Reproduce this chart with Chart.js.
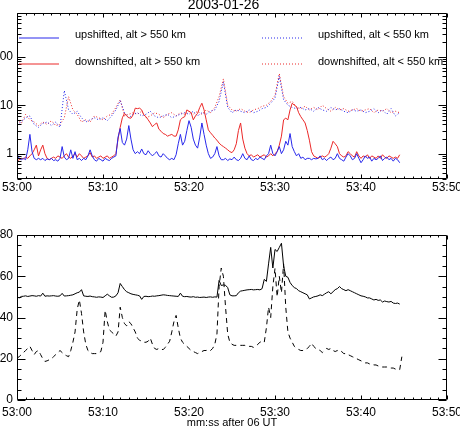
<!DOCTYPE html>
<html>
<head>
<meta charset="utf-8">
<script src="https://cdn.jsdelivr.net/npm/chart.js@4.4.1/dist/chart.umd.min.js"></script>
<style>
  html, body { margin: 0; padding: 0; background: #fff; }
  #wrap { position: relative; width: 460px; height: 433px; overflow: hidden; background: #fff; }
  canvas { position: absolute; left: 0; }
</style>
</head>
<body>
<div id="wrap">
  <canvas id="topChart" width="460" height="200" style="top:0px"></canvas>
  <canvas id="botChart" width="460" height="218" style="top:215px"></canvas>
</div>
<script>
// ---------------- DATA ----------------
const TITLE = '2003-01-26';
const X_TITLE = 'mm:ss after 06 UT';
const FINE_STEP = 0.25;   // seconds between samples (solid lines, dashed line)
const COARSE_STEP = 0.5;  // seconds between samples (dotted lines)
const xTickSeconds = [0, 10, 20, 30, 40, 50];
const xTickLabels = ['53:00', '53:10', '53:20', '53:30', '53:40', '53:50'];
const topYTicks = [1, 10, 100];
const bottomYTicks = [0, 20, 40, 60, 80];

const seriesLabels = [
  'upshifted, alt > 550 km',
  'downshifted, alt > 550 km',
  'upshifted, alt < 550 km',
  'downshifted, alt < 550 km'
];

// upshifted, alt > 550 km (blue solid), from 53:00 every 0.25 s
const upHigh = [
  1.0, 0.8, 0.75, 0.8, 0.75, 1.2, 2.5, 1.1,
  0.8, 0.75, 0.8, 0.75, 0.8, 0.72, 0.78, 0.75,
  0.8, 0.72, 0.75, 0.7, 0.8, 1.4, 0.85, 0.75,
  0.8, 1.2, 0.8, 1.1, 0.75, 0.8, 0.72, 0.8,
  0.75, 0.9, 1.2, 0.9, 0.75, 0.7, 0.8, 0.75,
  0.7, 0.8, 0.75, 0.72, 0.8, 0.85, 0.9, 2.2,
  3.3, 1.7, 1.5, 2.0, 3.8, 2.0, 1.2, 1.0,
  1.1, 1.0, 1.25, 1.0, 0.95, 1.15, 1.0, 0.9,
  1.0, 1.1, 0.9, 0.85, 1.0, 0.9, 0.8, 0.75,
  0.8, 0.75, 0.95, 1.6, 2.5, 1.5, 1.8, 3.0,
  4.8, 3.5, 2.0, 1.5, 1.3, 2.2, 4.3, 2.5,
  1.5, 1.0, 0.8, 0.85, 1.0, 1.4, 0.9, 0.75,
  0.75, 0.8, 0.72, 0.78, 0.75, 0.85, 0.75, 0.72,
  0.8, 1.0, 0.8, 0.75, 0.9, 0.75, 0.72, 0.8,
  0.75, 0.85, 0.8, 0.75, 0.9, 1.0, 1.5, 1.0,
  0.9, 1.1, 1.4, 1.0, 1.2, 1.8, 1.5, 2.6,
  1.4, 1.1, 0.9, 1.0, 0.8, 0.85, 0.75, 0.8,
  0.8, 0.75, 0.8, 0.78, 0.8, 0.9, 0.75, 0.8,
  0.72, 0.8, 0.85, 0.75, 0.8, 1.0, 0.8, 0.75,
  0.7, 0.85, 1.0, 0.9, 0.75, 0.8, 1.0, 0.8,
  0.65, 0.75, 0.9, 0.8, 0.85, 0.7, 0.8, 0.75,
  0.8, 0.9, 0.72, 0.8, 0.85, 0.75, 0.8, 0.7,
  0.8, 0.75, 0.65
];

// downshifted, alt > 550 km (red solid), every 0.25 s
const downHigh = [
  0.7, 0.75, 0.8, 0.78, 0.85, 0.8, 0.9, 1.0,
  1.2, 1.5, 0.9, 1.2, 1.5, 1.0, 0.8, 0.75,
  0.8, 0.85, 0.8, 0.9, 0.85, 0.8, 0.9, 1.0,
  0.85, 0.8, 0.9, 1.0, 0.85, 1.0, 0.9, 0.8,
  0.85, 0.9, 1.05, 0.85, 0.9, 0.8, 0.85, 0.9,
  0.8, 0.85, 0.9, 0.8, 0.85, 0.9, 1.0, 2.0,
  3.5, 5.5, 6.8, 6.0, 5.5, 5.4, 6.3, 8.7,
  8.5, 8.7, 8.0, 6.3, 5.8, 5.0, 4.3, 3.6,
  4.0, 4.3, 3.2, 2.9, 2.6, 2.5, 2.3, 2.4,
  2.5, 2.3, 2.3, 3.1, 5.0, 5.5, 5.8, 8.0,
  7.5, 7.0, 5.0, 6.0, 6.8, 9.0, 11, 8.0,
  5.0, 3.1, 2.7, 2.4, 2.1, 1.9, 1.65, 1.5,
  1.4, 1.3, 1.2, 1.1, 1.05, 1.2, 1.6, 3.0,
  4.3, 2.0, 1.3, 1.0, 0.9, 0.95, 0.85, 0.9,
  0.95, 0.85, 0.9, 0.95, 0.85, 0.9, 1.0, 0.9,
  1.0, 1.1, 1.5, 2.3, 5.0, 5.4, 5.0, 8.0,
  11, 10, 9.4, 7.0, 5.8, 5.0, 4.3, 3.0,
  1.9, 1.1, 0.9, 0.85, 0.8, 0.85, 0.9, 0.85,
  0.9, 1.0, 1.3, 1.8, 1.6, 1.4, 1.0, 0.9,
  0.85, 0.9, 1.1, 1.0, 0.9, 0.85, 1.1, 0.9,
  0.8, 0.9, 0.85, 0.95, 0.8, 0.9, 0.85, 0.8,
  0.9, 0.8, 0.95, 0.85, 0.8, 0.9, 0.85, 0.8,
  0.85, 0.8, 0.95
];

// upshifted, alt < 550 km (blue dotted), every 0.5 s
const upLow = [
  4.0, 4.5, 5.5, 6.0, 4.0, 3.5, 4.2, 4.5, 3.8, 4.5,
  3.5, 20, 8.0, 6.5, 7.5, 5.5, 4.5, 5.0, 5.5, 5.0,
  5.5, 4.8, 6.0, 8.0, 12.5, 7.0, 5.5, 6.5, 7.0, 6.0,
  6.5, 7.5, 6.0, 5.5, 6.0, 6.5, 5.5, 6.0, 6.5, 7.0,
  6.5, 7.5, 6.0, 7.0, 6.5, 7.5, 8.0, 12, 30, 9.0,
  7.0, 8.0, 7.5, 7.0, 8.0, 7.0, 7.5, 8.5, 9.0, 11,
  14, 40, 13, 10, 9.0, 8.5, 9.0, 8.0, 8.5, 7.5,
  9.0, 8.0, 7.5, 9.0, 8.0, 8.5, 7.5, 7.0, 8.0, 7.5,
  8.0, 7.0, 7.5, 8.5, 7.0, 8.0, 6.5, 8.5, 6.0, 7.0
];

// downshifted, alt < 550 km (red dotted), every 0.5 s
const downLow = [
  5.0, 4.2, 6.5, 5.0, 4.5, 3.8, 4.5, 4.0, 4.8, 3.8,
  4.0, 5.5, 15, 8.0, 6.5, 4.5, 5.0, 4.5, 6.0, 5.5,
  5.0, 6.0, 6.5, 9.0, 13, 6.0, 6.5, 7.0, 6.5, 7.5,
  5.5, 6.0, 7.0, 6.5, 5.5, 6.5, 7.0, 6.0, 7.0, 6.5,
  7.5, 6.5, 7.5, 6.5, 8.0, 7.0, 9.0, 15, 35, 10,
  8.0, 7.5, 8.5, 7.5, 7.0, 8.0, 8.5, 9.5, 10, 12,
  16, 45, 15, 11, 12, 9.0, 8.5, 9.5, 8.0, 9.0,
  8.0, 10, 8.5, 7.5, 9.0, 8.0, 8.5, 7.5, 8.0, 8.5,
  7.5, 8.0, 8.5, 7.0, 8.0, 7.5, 8.5, 7.0, 7.5, 7.0
];

// lower panel, solid line, every 0.25 s
const lowerSolid = [
  50.0, 49.5, 50.2, 50.3, 50.5, 50.2, 50.4, 50.6,
  50.5, 50.3, 50.6, 50.4, 51.8, 50.3, 50.5, 50.4,
  50.5, 50.6, 50.4, 50.3, 50.5, 51.7, 50.4, 50.5,
  50.6, 50.8, 51.0, 51.5, 52.0, 52.3, 53.5, 50.5,
  50.3, 50.2, 50.4, 50.1, 50.0, 49.8, 50.0, 49.9,
  49.7, 50.5, 51.3, 50.5, 49.8, 49.9, 50.5, 52.0,
  56.5, 55.0, 53.5, 52.5, 52.0, 51.5, 51.2, 51.0,
  50.8, 50.5, 48.8, 50.2, 50.3, 50.1, 50.2, 50.4,
  50.3, 50.5, 50.6, 50.8, 51.0, 50.9, 50.7, 50.6,
  50.5, 50.4, 50.3, 50.2, 51.8, 50.3, 50.1, 50.2,
  50.0, 49.9, 50.1, 49.8, 49.9, 49.7, 49.8, 49.9,
  49.7, 49.9, 50.0, 49.8, 50.0, 49.9, 58.0, 55.5,
  55.8, 55.6, 54.5, 51.0, 50.5, 50.5, 50.6, 52.0,
  52.8, 53.0, 53.2, 53.4, 53.5, 53.6, 53.4, 53.5,
  53.6, 53.4, 54.0, 58.5, 57.5, 66.0, 74.0, 64.0,
  73.0, 72.0, 74.0, 76.0, 65.0, 60.0, 59.5, 57.0,
  55.5, 54.5, 54.0, 53.0, 52.5, 52.0, 51.5, 51.0,
  49.0, 49.5, 50.0, 50.2, 50.5, 51.0, 50.6, 51.3,
  52.0, 52.5, 51.5, 52.5, 53.5, 54.0, 55.0, 54.0,
  53.5, 53.0, 53.5, 53.0, 52.5, 52.0, 51.5, 51.0,
  50.5, 50.3, 50.0, 49.5, 49.5, 49.0, 48.5, 48.8,
  48.3, 48.5, 47.5, 48.0, 47.7, 47.5, 47.8, 47.0,
  46.8, 47.0, 46.5
];

// lower panel, dashed line, every 0.25 s
const lowerDashed = [
  20.3, 21.0, 22.0, 23.0, 24.0, 25.0, 26.0, 24.0,
  22.0, 23.5, 24.0, 22.0, 20.0, 18.7, 19.0, 19.5,
  20.0, 21.0, 22.0, 23.0, 24.0, 23.0, 22.0, 21.5,
  21.0, 24.0, 28.0, 33.0, 44.0, 48.5, 42.0, 33.0,
  27.0, 24.0, 23.0, 22.5, 22.5, 22.5, 23.0, 23.5,
  28.0, 43.5, 38.0, 34.0, 33.0, 32.0, 31.0, 33.0,
  45.0, 40.0, 37.0, 36.0, 38.0, 37.0, 35.0, 33.0,
  30.0, 29.0, 28.5, 28.0, 28.0, 28.5, 30.0, 27.0,
  25.0, 24.5, 25.0, 24.5, 24.5, 25.5, 27.0, 28.5,
  33.0, 38.0, 41.0, 35.0, 30.0, 28.0, 27.0, 26.0,
  25.0, 24.0, 23.5, 23.0, 22.5, 23.0, 23.5, 24.0,
  24.0, 24.5, 24.0, 25.0, 27.0, 32.0, 55.0, 64.0,
  60.0, 45.0, 32.0, 28.0, 27.0, 26.5, 26.5, 26.5,
  26.5, 26.5, 26.5, 26.0, 26.0, 26.0, 25.5, 26.0,
  27.0, 28.0, 28.5, 28.0, 35.0, 45.0, 40.0, 55.0,
  63.8, 50.0, 60.0, 52.0, 66.0, 45.0, 33.0, 30.0,
  28.0, 26.0, 25.0, 24.5, 24.0, 24.0, 24.5, 25.0,
  26.0, 27.5, 26.0, 25.0, 24.5, 24.0, 23.0, 24.0,
  25.0, 24.5, 25.0, 24.0, 23.5, 24.0, 23.0, 23.5,
  22.5, 22.5, 22.0, 21.5, 21.0, 20.5, 20.0, 19.5,
  19.0, 18.5, 18.0, 18.0, 17.5, 17.5, 17.0, 17.0,
  16.5, 16.5, 16.0, 16.0, 16.0, 15.5, 15.5, 15.5,
  15.0, 15.0, 14.7, 21.0
];

// ---------------- RENDERING ----------------
const FONT = '"Liberation Sans", Arial, Helvetica, sans-serif';
const BLUE = 'rgb(40,40,235)';
const RED = 'rgb(235,40,40)';

const toPoints = (arr, step) => arr.map((v, i) => ({ x: i * step, y: v }));

function minorRange(from, to, step, skipEvery) {
  const out = [];
  for (let v = from; v <= to + 1e-9; v += step) {
    if (skipEvery && Math.abs(v / skipEvery - Math.round(v / skipEvery)) < 1e-9) continue;
    out.push(v);
  }
  return out;
}
function logMinor(min, max) {
  const out = [];
  for (let d = 0.1; d <= max; d *= 10) {
    for (let k = 2; k <= 9; k++) {
      const v = d * k;
      if (v >= min * 0.999 && v <= max) out.push(v);
    }
  }
  return out;
}

// Frame with inward ticks on all four sides (IDL style)
const framePlugin = {
  id: 'frame',
  afterDatasetsDraw(chart, args, o) {
    const { ctx, chartArea: a } = chart;
    const x = chart.scales.x, y = chart.scales.y;
    const L = Math.round(a.left) + 0.5, R = Math.round(a.right) - 0.5;
    const T = Math.round(a.top) + 0.5, B = Math.round(a.bottom) - 0.5;
    ctx.save();
    ctx.strokeStyle = '#000';
    ctx.lineWidth = 1;
    ctx.beginPath();
    ctx.rect(L, T, R - L, B - T);
    const xt = (v, len) => {
      const p = Math.round(x.getPixelForValue(v)) + 0.5;
      ctx.moveTo(p, B); ctx.lineTo(p, B - len);
      ctx.moveTo(p, T); ctx.lineTo(p, T + len);
    };
    const yt = (v, len) => {
      const p = Math.round(y.getPixelForValue(v)) + 0.5;
      ctx.moveTo(L, p); ctx.lineTo(L + len, p);
      ctx.moveTo(R, p); ctx.lineTo(R - len, p);
    };
    o.xMajor.forEach(v => xt(v, o.xLen));
    o.xMinor.forEach(v => xt(v, o.xMinorLen));
    o.yMajor.forEach(v => yt(v, o.yLen));
    o.yMinor.forEach(v => yt(v, o.yMinorLen));
    ctx.stroke();
    ctx.restore();
  }
};

// Legend drawn inside the plot box, two columns
const boxLegendPlugin = {
  id: 'boxLegend',
  afterDraw(chart, args, o) {
    if (!o || !o.items) return;
    const ctx = chart.ctx;
    o.items.forEach(it => {
      const ds = chart.data.datasets[it.dataset];
      ctx.save();
      ctx.strokeStyle = ds.borderColor;
      ctx.lineWidth = ds.borderWidth;
      ctx.setLineDash(ds.borderDash || []);
      ctx.beginPath();
      ctx.moveTo(it.x, it.lineY);
      ctx.lineTo(it.x + o.lineLength, it.lineY);
      ctx.stroke();
      ctx.setLineDash([]);
      ctx.fillStyle = '#000';
      ctx.font = o.fontSize + 'px ' + FONT;
      ctx.textBaseline = 'middle';
      ctx.textAlign = 'left';
      ctx.fillText(ds.label, it.textX, it.textY);
      ctx.restore();
    });
  }
};

const xAxis = (height, labelPad, title) => ({
  type: 'linear',
  min: 0,
  max: 50,
  afterBuildTicks: s => { s.ticks = xTickSeconds.map(v => ({ value: v })); },
  afterFit: s => { s.height = height; s.paddingLeft = 0; s.paddingRight = 0; },
  ticks: {
    autoSkip: false, maxRotation: 0, minRotation: 0,
    padding: labelPad, color: '#000',
    font: { family: FONT, size: 12 },
    callback: v => xTickLabels[xTickSeconds.indexOf(v)]
  },
  grid: { display: false, drawTicks: false },
  border: { display: false },
  title: title ? {
    display: true, text: title, color: '#000',
    font: { family: FONT, size: 11 },
    padding: { top: 0, bottom: 3 }
  } : { display: false }
});

const yAxisCommon = {
  afterFit: s => { s.width = 17; s.paddingTop = 0; s.paddingBottom = 0; },
  grid: { display: false, drawTicks: false },
  border: { display: false }
};

Chart.defaults.font.family = FONT;

// ---------- top panel ----------
new Chart(document.getElementById('topChart'), {
  type: 'line',
  data: {
    datasets: [
      { label: seriesLabels[0], data: toPoints(upHigh, FINE_STEP), borderColor: BLUE, borderWidth: 1, pointRadius: 0, tension: 0 },
      { label: seriesLabels[1], data: toPoints(downHigh, FINE_STEP), borderColor: RED, borderWidth: 1, pointRadius: 0, tension: 0 },
      { label: seriesLabels[2], data: toPoints(upLow, COARSE_STEP), borderColor: BLUE, borderWidth: 1, borderDash: [1, 2], pointRadius: 0, tension: 0 },
      { label: seriesLabels[3], data: toPoints(downLow, COARSE_STEP), borderColor: RED, borderWidth: 1, borderDash: [1, 2], pointRadius: 0, tension: 0 }
    ]
  },
  options: {
    responsive: false,
    animation: false,
    events: [],
    layout: { padding: { left: 0, right: 13, top: 0, bottom: 0 } },
    plugins: {
      legend: { display: false },
      tooltip: { enabled: false },
      title: {
        display: true, text: TITLE, color: '#000',
        font: { family: FONT, size: 14, weight: 'normal', lineHeight: 1 },
        padding: { top: -2, bottom: 1 }
      },
      frame: {
        xMajor: xTickSeconds, xMinor: minorRange(0, 50, 1, 10), xLen: 4, xMinorLen: 2,
        yMajor: topYTicks, yMinor: logMinor(0.3, 800), yLen: 8, yMinorLen: 4
      },
      boxLegend: {
        lineLength: 40, fontSize: 11,
        items: [
          { dataset: 0, x: 19, lineY: 38, textX: 75, textY: 34.5 },
          { dataset: 1, x: 19, lineY: 64, textX: 75, textY: 61.5 },
          { dataset: 2, x: 262, lineY: 38, textX: 318, textY: 34.5 },
          { dataset: 3, x: 262, lineY: 64, textX: 318, textY: 61.5 }
        ]
      }
    },
    scales: {
      x: xAxis(21, 1, null),
      y: Object.assign({
        type: 'logarithmic', min: 0.3, max: 800,
        afterBuildTicks: s => { s.ticks = topYTicks.map(v => ({ value: v })); },
        ticks: { padding: 4, color: '#000', font: { family: FONT, size: 12 }, callback: v => String(v) }
      }, yAxisCommon)
    }
  },
  plugins: [framePlugin, boxLegendPlugin]
});

// ---------- bottom panel ----------
new Chart(document.getElementById('botChart'), {
  type: 'line',
  data: {
    datasets: [
      { label: 'solid', data: toPoints(lowerSolid, FINE_STEP), borderColor: '#000', borderWidth: 1, pointRadius: 0, tension: 0 },
      { label: 'dashed', data: toPoints(lowerDashed, FINE_STEP), borderColor: '#000', borderWidth: 1, borderDash: [5, 4], pointRadius: 0, tension: 0 }
    ]
  },
  options: {
    responsive: false,
    animation: false,
    events: [],
    layout: { padding: { left: 0, right: 13, top: 20, bottom: 0 } },
    plugins: {
      legend: { display: false },
      tooltip: { enabled: false },
      title: { display: false },
      frame: {
        xMajor: xTickSeconds, xMinor: minorRange(0, 50, 1, 10), xLen: 4, xMinorLen: 2,
        yMajor: bottomYTicks, yMinor: minorRange(0, 80, 5, 20), yLen: 8, yMinorLen: 4
      }
    },
    scales: {
      x: xAxis(33, 5, X_TITLE),
      y: Object.assign({
        type: 'linear', min: 0, max: 80,
        afterBuildTicks: s => { s.ticks = bottomYTicks.map(v => ({ value: v })); },
        ticks: { padding: 4, color: '#000', font: { family: FONT, size: 12 }, callback: v => String(v) }
      }, yAxisCommon)
    }
  },
  plugins: [framePlugin]
});
</script>
</body>
</html>
